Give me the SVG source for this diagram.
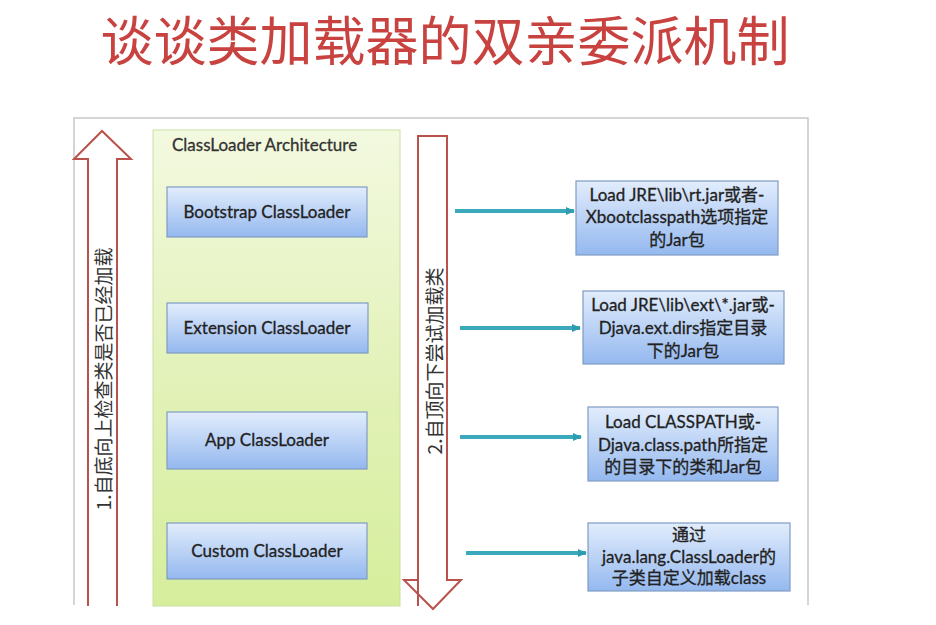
<svg xmlns="http://www.w3.org/2000/svg" width="936" height="625" viewBox="0 0 936 625">
<defs>
<linearGradient id="gGreen" x1="0" y1="0" x2="0" y2="1">
<stop offset="0" stop-color="#f3f9e0"/>
<stop offset="0.5" stop-color="#e3f2ba"/>
<stop offset="1" stop-color="#d6ee9c"/>
</linearGradient>
<linearGradient id="gBlue" x1="0" y1="0" x2="0" y2="1">
<stop offset="0" stop-color="#e2edfc"/>
<stop offset="1" stop-color="#94b8ef"/>
</linearGradient>
<marker id="ah" markerWidth="10" markerHeight="10" refX="8" refY="5" orient="auto" markerUnits="userSpaceOnUse">
<path d="M0,1 L9,5 L0,9 z" fill="#2e9cb0"/>
</marker>
<style>
.box{fill:url(#gBlue);stroke:#7f9cc4;stroke-width:1.2}
.lbl{font-family:Lato,"Noto Sans CJK SC",sans-serif;font-size:17px;fill:#222;stroke:#222;stroke-width:0.3;text-anchor:middle}
.note{font-family:Lato,"Noto Sans CJK SC",sans-serif;font-size:17px;fill:#222;stroke:#222;stroke-width:0.3;text-anchor:middle}
.big{fill:#fff;stroke:#b9524d;stroke-width:2}
.vt{font-family:"Noto Sans CJK SC",sans-serif;font-size:19px;fill:#333;text-anchor:middle}
.conn{stroke:#3aa9bb;stroke-width:4;fill:none}
</style>
</defs>
<rect width="936" height="625" fill="#fff"/>
<text x="445" y="61" font-family="Noto Sans CJK SC,sans-serif" font-size="53" fill="#c8423f" text-anchor="middle">谈谈类加载器的双亲委派机制</text>
<g id="frame">
<path d="M74,605 L74,118 L808,118 L808,605" fill="none" stroke="#c8c8c8" stroke-width="1.5"/>
</g>
<g id="upArrow">
<path class="big" d="M88,606 L88,159 L74,159 L102,131 L131,159 L117,159 L117,606"/>
<text class="vt" transform="translate(111,379) rotate(-90)">1.自底向上检查类是否已经加载</text>
</g>
<g id="architecture">
<rect x="153" y="130" width="247" height="476" fill="url(#gGreen)" stroke="#c9e1a4" stroke-width="1"/>
<text x="172" y="151" font-family="Lato,sans-serif" font-size="17" fill="#333" stroke="#333" stroke-width="0.3">ClassLoader Architecture</text>
</g>
<g id="bootstrap">
<rect class="box" x="167" y="187" width="200" height="50"/>
<text class="lbl" x="267" y="218">Bootstrap ClassLoader</text>
</g>
<g id="extension">
<rect class="box" x="167" y="303" width="201" height="50"/>
<text class="lbl" x="267" y="334">Extension ClassLoader</text>
</g>
<g id="app">
<rect class="box" x="167" y="412" width="200" height="57"/>
<text class="lbl" x="267" y="446">App ClassLoader</text>
</g>
<g id="custom">
<rect class="box" x="167" y="523" width="200" height="56"/>
<text class="lbl" x="267" y="557">Custom ClassLoader</text>
</g>
<g id="downArrow">
<path class="big" d="M418,606 L418,136 L447,136 L447,580 L461,580 L433,609 L404,580 L418,580"/>
<text class="vt" transform="translate(442,361) rotate(-90)">2.自顶向下尝试加载类</text>
</g>
<g id="connectors">
<line class="conn" x1="455" y1="211" x2="574" y2="211" marker-end="url(#ah)"/>
<line class="conn" x1="460" y1="328" x2="580" y2="328" marker-end="url(#ah)"/>
<line class="conn" x1="460" y1="437" x2="581" y2="437" marker-end="url(#ah)"/>
<line class="conn" x1="466" y1="553" x2="586" y2="553" marker-end="url(#ah)"/>
</g>
<g id="note1">
<rect class="box" x="576" y="181" width="202" height="74"/>
<text class="note" x="677" y="201">Load JRE\lib\rt.jar或者-</text>
<text class="note" x="677" y="223">Xbootclasspath选项指定</text>
<text class="note" x="677" y="246">的Jar包</text>
</g>
<g id="note2">
<rect class="box" x="583" y="291" width="201" height="73"/>
<text class="note" x="683" y="311">Load JRE\lib\ext\*.jar或-</text>
<text class="note" x="683" y="334">Djava.ext.dirs指定目录</text>
<text class="note" x="683" y="357">下的Jar包</text>
</g>
<g id="note3">
<rect class="box" x="588" y="407" width="190" height="74"/>
<text class="note" x="683" y="428">Load CLASSPATH或-</text>
<text class="note" x="683" y="451">Djava.class.path所指定</text>
<text class="note" x="683" y="473">的目录下的类和Jar包</text>
</g>
<g id="note4">
<rect class="box" x="588" y="523" width="202" height="68"/>
<text class="note" x="689" y="541">通过</text>
<text class="note" x="689" y="563">java.lang.ClassLoader的</text>
<text class="note" x="689" y="584">子类自定义加载class</text>
</g>
</svg>
